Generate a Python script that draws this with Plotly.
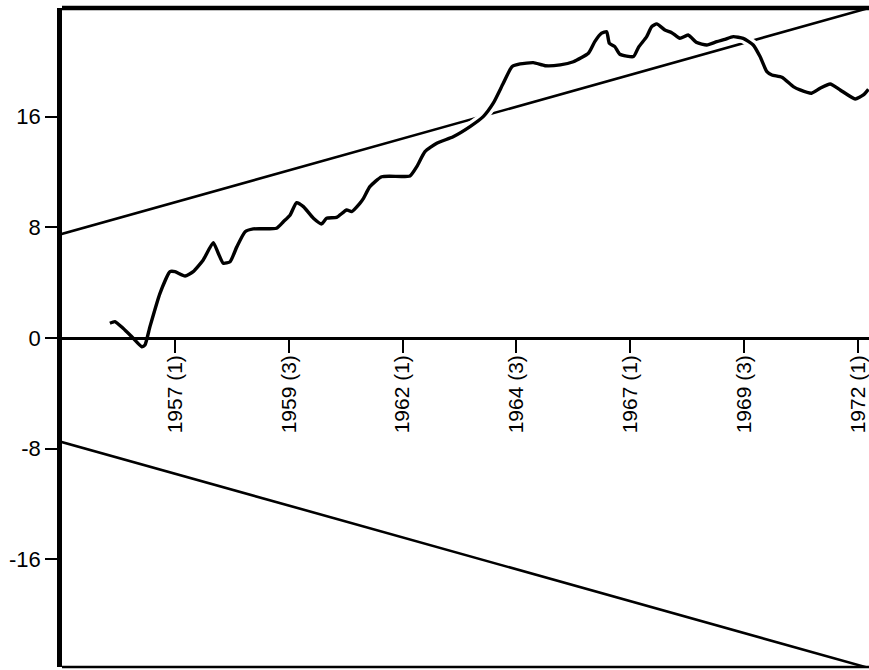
import plotly.graph_objects as go

# ---- data ----
years = [1955.57, 1955.68, 1955.86, 1956.05, 1956.27, 1956.34, 1956.45, 1956.67, 1956.89, 1957.00,
         1957.22, 1957.40, 1957.62, 1957.84, 1957.95, 1958.06, 1958.21, 1958.36, 1958.54, 1958.72,
         1959.23, 1959.38, 1959.53, 1959.67, 1959.82, 1960.04, 1960.22, 1960.33, 1960.55, 1960.77,
         1960.88, 1961.06, 1961.14, 1961.28, 1961.54, 1962.16, 1962.31, 1962.49, 1962.75, 1963.11,
         1963.48, 1963.77, 1963.99, 1964.21, 1964.40, 1964.58, 1964.87, 1965.13, 1965.46, 1965.75,
         1966.08, 1966.22, 1966.37, 1966.48, 1966.54, 1966.66, 1966.77, 1967.07, 1967.18, 1967.36,
         1967.47, 1967.58, 1967.76, 1967.91, 1968.09, 1968.27, 1968.46, 1968.68, 1968.90, 1969.08,
         1969.26, 1969.48, 1969.70, 1969.85, 1970.00, 1970.11, 1970.33, 1970.58, 1970.73, 1970.98,
         1971.17, 1971.39, 1971.61, 1971.94, 1972.12, 1972.23]
cusum = [1.06, 1.18, 0.70, 0.09, -0.63, -0.51, 0.82, 3.23, 4.79, 4.79,
         4.48, 4.79, 5.64, 6.89, 6.12, 5.40, 5.51, 6.60, 7.68, 7.88,
         7.93, 8.40, 8.89, 9.78, 9.49, 8.65, 8.24, 8.65, 8.72, 9.25,
         9.13, 9.73, 10.09, 10.93, 11.65, 11.71, 12.38, 13.46, 14.07, 14.54,
         15.27, 15.99, 16.96, 18.40, 19.60, 19.80, 19.89, 19.67, 19.73, 19.96,
         20.57, 21.41, 22.02, 22.13, 21.29, 21.05, 20.50, 20.33, 21.00, 21.77,
         22.49, 22.69, 22.25, 22.06, 21.65, 21.89, 21.34, 21.17, 21.41, 21.58,
         21.77, 21.65, 21.17, 20.33, 19.24, 19.00, 18.84, 18.16, 17.92, 17.68,
         18.04, 18.35, 17.92, 17.27, 17.56, 17.97]

bound_x = [1954.5, 1972.25]
upper_bound = [7.5, 23.85]
lower_bound = [-7.5, -23.85]

xtick_vals = [1957.0, 1959.5, 1962.0, 1964.5, 1967.0, 1969.5, 1972.0]
xtick_text = ["1957 (1)", "1959 (3)", "1962 (1)", "1964 (3)", "1967 (1)", "1969 (3)", "1972 (1)"]
ytick_vals = [-16, -8, 0, 8, 16]
ytick_text = ["-16", "-8", "0", "8", "16"]

x_range = [1954.518, 1972.243]
y_range = [-23.77, 23.84]

# ---- figure ----
fig = go.Figure()
fig.add_trace(go.Scatter(x=bound_x, y=upper_bound, mode="lines",
                         line=dict(color="black", width=2.6), hoverinfo="skip"))
fig.add_trace(go.Scatter(x=bound_x, y=lower_bound, mode="lines",
                         line=dict(color="black", width=2.6), hoverinfo="skip"))
# white halo so the boundary line is broken where the curve crosses it
fig.add_trace(go.Scatter(x=years, y=cusum, mode="lines",
                         line=dict(color="white", width=10, shape="spline", smoothing=0.5),
                         hoverinfo="skip"))
fig.add_trace(go.Scatter(x=years, y=cusum, mode="lines",
                         line=dict(color="black", width=3.4, shape="spline", smoothing=0.5)))

zero_pos = (0 - y_range[0]) / (y_range[1] - y_range[0])
font = "Liberation Sans, Arial, Helvetica, sans-serif"

fig.update_layout(
    width=869, height=670,
    margin=dict(l=62, r=0, t=8, b=3),
    paper_bgcolor="white", plot_bgcolor="white",
    showlegend=False,
    font=dict(family=font, color="black"),
    xaxis=dict(range=x_range, tickvals=xtick_vals, ticktext=xtick_text,
               tickangle=-90, ticks="outside", ticklen=13, tickwidth=2, tickcolor="black",
               tickfont=dict(size=21, family=font, color="black"),
               ticklabelstandoff=-6,
               showgrid=False, zeroline=False, showline=True, linecolor="black", linewidth=2.5,
               anchor="free", position=zero_pos),
    yaxis=dict(range=y_range, tickvals=ytick_vals, ticktext=ytick_text,
               ticks="outside", ticklen=12, tickwidth=2, tickcolor="black",
               tickfont=dict(size=22, family=font, color="black"),
               showgrid=False, zeroline=False, showline=True, linecolor="black", linewidth=4.5),
    shapes=[
        dict(type="line", xref="paper", yref="paper", x0=0, x1=1, y0=1, y1=1,
             line=dict(color="black", width=4.5)),
        dict(type="line", xref="paper", yref="paper", x0=0, x1=1, y0=0, y1=0,
             line=dict(color="black", width=2.5)),
    ],
)

fig.write_html("out.html", config={"displayModeBar": False},
               post_script="document.body.style.margin='0px';")
